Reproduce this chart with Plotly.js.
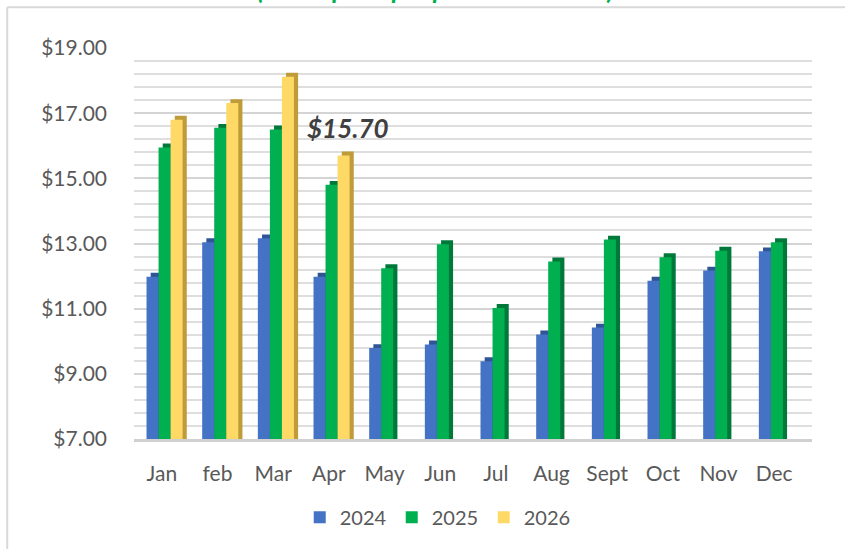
<!DOCTYPE html>
<html>
<head>
<meta charset="utf-8">
<script src="https://cdn.plot.ly/plotly-3.0.1.min.js"></script>
<style>
  html, body { margin: 0; padding: 0; background: #ffffff; }
  #chart { width: 845px; height: 549px; }
</style>
</head>
<body>
<div id="chart"></div>
<script>
// ---- data ----
const months = ['Jan', 'feb', 'Mar', 'Apr', 'May', 'Jun', 'Jul', 'Aug', 'Sept', 'Oct', 'Nov', 'Dec'];
const seriesNames = ['2024', '2025', '2026'];
const v2024 = [11.98, 13.04, 13.16, 11.98, 9.79, 9.90, 9.39, 10.21, 10.42, 11.86, 12.17, 12.76];
const v2025 = [15.95, 16.55, 16.50, 14.80, 12.24, 12.98, 11.02, 12.45, 13.12, 12.58, 12.78, 13.04];
const v2026 = [16.80, 17.31, 18.12, 15.70, null, null, null, null, null, null, null, null];
const yTickVals = [7, 9, 11, 13, 15, 17, 19];
const yTickText = ['$7.00', '$9.00', '$11.00', '$13.00', '$15.00', '$17.00', '$19.00'];
const calloutMonth = 'Apr';
const titleText = '(Retail price per pound in dollars)';

// ---- styling ----
const frontColors = ['#4472C4', '#00B050', '#FFD966'];
const sideColors = ['#2F5597', '#00783A', '#BF9B3A'];
const barW = 0.216;
const offsets = [-0.275, -0.059, 0.157];
const depthX = 0.075;   // category units
const depthY = 0.12;    // value units
const font = 'Lato, "Open Sans", "Liberation Sans", sans-serif';
const textGray = '#595959';

const all = [v2024, v2025, v2026];
const traces = [];
// back (side/top) blocks first
all.forEach((vals, i) => {
  traces.push({
    type: 'bar', x: months,
    y: vals.map(v => v == null ? null : v + depthY),
    offset: offsets[i] + depthX, width: barW,
    marker: { color: sideColors[i], line: { width: 0 } },
    showlegend: false, hoverinfo: 'skip'
  });
});
// front faces
all.forEach((vals, i) => {
  traces.push({
    type: 'bar', x: months, y: vals, name: seriesNames[i],
    offset: offsets[i], width: barW,
    marker: { color: frontColors[i], line: { width: 0 } }
  });
});

const calloutIdx = months.indexOf(calloutMonth);
const calloutVal = v2026[calloutIdx];

const layout = {
  width: 845, height: 549,
  margin: { l: 134, r: 33, t: 48, b: 108 },
  paper_bgcolor: '#ffffff', plot_bgcolor: '#ffffff',
  barmode: 'overlay',
  font: { family: font, color: textGray, size: 21 },
  xaxis: {
    type: 'category', range: [-0.5, 11.68],
    showgrid: false, zeroline: false,
    showline: true, linecolor: '#d0d0d0', linewidth: 3,
    ticks: '', ticklabelstandoff: 14,
    tickfont: { family: font, size: 21, color: textGray }
  },
  yaxis: {
    range: [7, 19], tickmode: 'array', tickvals: yTickVals, ticktext: yTickText,
    showgrid: true, gridcolor: '#d4d4d4', gridwidth: 2,
    minor: { tick0: 7, dtick: 0.4, showgrid: true, gridcolor: '#dedede', gridwidth: 2 },
    zeroline: false, showline: false, ticks: '', ticklabelstandoff: 26,
    tickfont: { family: font, size: 21, color: textGray }
  },
  legend: {
    orientation: 'h', x: 0.448, xanchor: 'center', y: -0.15, yanchor: 'top',
    font: { family: font, size: 20, color: textGray },
    entrywidth: 47, itemclick: false
  },
  annotations: [
    {
      x: calloutMonth, y: calloutVal, xref: 'x', yref: 'y',
      text: '<b><i>$' + calloutVal.toFixed(2) + '</i></b>',
      showarrow: false, xshift: 19, yshift: 28, yanchor: 'middle',
      font: { family: font, size: 26, color: '#404040' }
    },
    {
      x: 0.445, y: 1.104, xref: 'paper', yref: 'paper',
      xanchor: 'center', yanchor: 'bottom',
      text: '<b><i>' + titleText + '</i></b>', showarrow: false,
      font: { family: font, size: 26, color: '#00B050' }
    }
  ],
  shapes: [
    { type: 'line', xref: 'paper', yref: 'paper', x0: -0.187, x1: 1.06, y0: 1.104, y1: 1.104,
      line: { color: '#d9d9d9', width: 2 } },
    { type: 'line', xref: 'paper', yref: 'paper', x0: -0.187, x1: -0.187, y0: 1.104, y1: -0.3,
      line: { color: '#d9d9d9', width: 2 } }
  ]
};

Plotly.newPlot('chart', traces, layout, { staticPlot: true, displayModeBar: false });
</script>
</body>
</html>
